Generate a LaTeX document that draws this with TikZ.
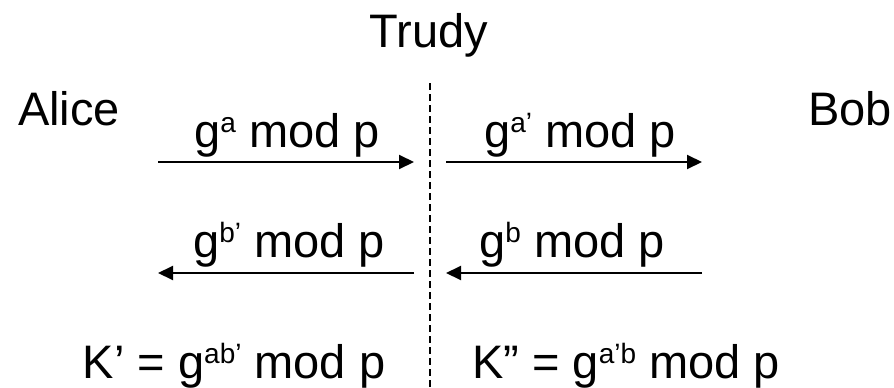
\documentclass[tikz,border=0pt]{standalone}
\usepackage{fontspec}
\setmainfont{Liberation Sans}
\usetikzlibrary{arrows.meta}
\newcommand{\supx}[1]{\raisebox{0.3em}{\fontsize{28}{30}\selectfont #1}}
\tikzset{
  lbl/.style={inner sep=0pt, outer sep=0pt, font=\fontsize{47}{56}\selectfont, anchor=base},
  msg/.style={line width=2pt, -{Triangle[length=15pt,width=14pt]}},
  mitm/.style={line width=1.6pt, dash pattern=on 7pt off 4pt}
}
\begin{document}
\begin{tikzpicture}[x=1pt,y=-1pt]
\useasboundingbox (0,0) rectangle (894,388);
\node[lbl] (trudy) at (429,47) {Trudy};
\node[lbl,anchor=base west] (alice) at (18,125) {Alice};
\node[lbl,anchor=base west] (bob) at (808,125) {Bob};
% dashed divider
\coordinate (dtop) at (430,83);
\coordinate (dbot) at (430,390);
\draw[mitm] (dtop) -- (dbot);
% arrow endpoints
\coordinate (a1s) at (158,162); \coordinate (a1e) at (414,162);
\coordinate (a2s) at (446,162); \coordinate (a2e) at (702,162);
\coordinate (b1s) at (414,273); \coordinate (b1e) at (158,273);
\coordinate (b2s) at (702,273); \coordinate (b2e) at (446,273);
\draw[msg] (a1s) -- (a1e);
\draw[msg] (a2s) -- (a2e);
\draw[msg] (b1s) -- (b1e);
\draw[msg] (b2s) -- (b2e);
% labels
\node[lbl] (la1) at (287,147) {g\supx{a} mod p};
\node[lbl] (la2) at (580,147) {g\supx{a’} mod p};
\node[lbl] (lb1) at (289,257) {g\supx{b’} mod p};
\node[lbl] (lb2) at (572,257) {g\supx{b} mod p};
\node[lbl] (k1) at (234,378) {K’ = g\supx{ab’} mod p};
\node[lbl] (k2) at (626,378) {K” = g\supx{a’b} mod p};
\end{tikzpicture}
\end{document}
